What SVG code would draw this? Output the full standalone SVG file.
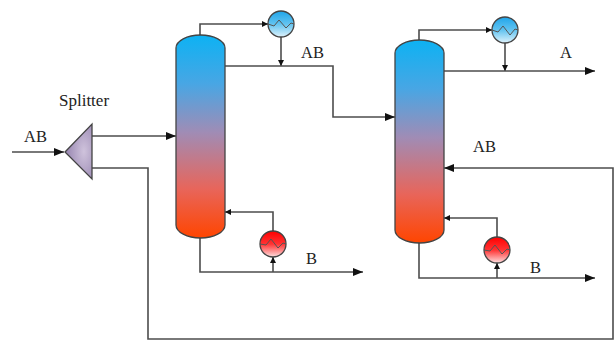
<svg xmlns="http://www.w3.org/2000/svg" width="616" height="342" viewBox="0 0 616 342">
<style>
text{font-family:"Liberation Serif","Times New Roman",serif;font-size:16.5px;fill:#222}
.c{fill:none;stroke:#4d4d4d;stroke-width:1.6}
.v{stroke:#444;stroke-width:1.3}
.z{fill:none;stroke:#555;stroke-width:1}
</style>
<defs>
<linearGradient id="col" x1="0" y1="0" x2="0" y2="1"><stop offset="0" stop-color="#0db2f3"/><stop offset=".24" stop-color="#48a6e4"/><stop offset=".48" stop-color="#a08cb5"/><stop offset=".76" stop-color="#e8655a"/><stop offset="1" stop-color="#ff4500"/></linearGradient>
<linearGradient id="cool" x1="0" y1="0" x2="0" y2="1"><stop offset="0" stop-color="#1fa5ea"/><stop offset=".5" stop-color="#62c3f0"/><stop offset="1" stop-color="#dff3fc"/></linearGradient>
<linearGradient id="heat" x1="0" y1="0" x2="0" y2="1"><stop offset="0" stop-color="#f00"/><stop offset=".5" stop-color="#f33"/><stop offset="1" stop-color="#fde0e0"/></linearGradient>
<radialGradient id="spl" cx=".7" cy=".5" r=".6"><stop offset="0" stop-color="#cfc3dc"/><stop offset="1" stop-color="#9d8cb5"/></radialGradient>
<marker id="a" markerUnits="userSpaceOnUse" markerWidth="11" markerHeight="8" refX="10" refY="4" orient="auto"><path d="M0 0L10 4L0 8Z" fill="#111"/></marker>
<marker id="s" markerUnits="userSpaceOnUse" markerWidth="7" markerHeight="6" refX="6" refY="3" orient="auto"><path d="M0 0L6 3L0 6Z" fill="#111"/></marker>
</defs>
<g id="connectors">
<path class="c" d="M12 152H64" marker-end="url(#a)"/>
<path class="c" d="M92 136H176" marker-end="url(#a)"/>
<path class="c" d="M92 168H148V339H613V168H444" marker-end="url(#a)"/>
<path class="c" d="M200 35V24H268" marker-end="url(#s)"/>
<path class="c" d="M281 37V66" marker-end="url(#s)"/>
<path class="c" d="M225 66H333V117H395" marker-end="url(#a)"/>
<path class="c" d="M273 231V212H225" marker-end="url(#s)"/>
<path class="c" d="M273 272V257" marker-end="url(#s)"/>
<path class="c" d="M200 238V272H363" marker-end="url(#a)"/>
<path class="c" d="M419 40V30H492" marker-end="url(#s)"/>
<path class="c" d="M505 43V71" marker-end="url(#s)"/>
<path class="c" d="M444 71H595" marker-end="url(#a)"/>
<path class="c" d="M497 237V218H444" marker-end="url(#s)"/>
<path class="c" d="M497 278V263" marker-end="url(#s)"/>
<path class="c" d="M419 243V278H595" marker-end="url(#a)"/>
</g>
<g id="splitter"><path d="M65 152L92 124V179Z" fill="url(#spl)" stroke="#444" stroke-width="1.3"/></g>
<g id="column1"><path d="M176 48A24.5 13 0 0 1 225 48V225A24.5 13 0 0 1 176 225Z" fill="url(#col)" stroke="#444" stroke-width="1.3"/></g>
<g id="column2"><path d="M395 53A24.5 13 0 0 1 444 53V230A24.5 13 0 0 1 395 230Z" fill="url(#col)" stroke="#444" stroke-width="1.3"/></g>
<g id="condenser1"><circle class="v" cx="281" cy="24" r="13" fill="url(#cool)"/><path class="z" d="M268 24L274 26L279 20L286 28L291 23L294 24"/></g>
<g id="reboiler1"><circle class="v" cx="273" cy="244" r="13" fill="url(#heat)"/><path class="z" d="M260 244L266 245L271 239L278 248L283 243L286 244"/></g>
<g id="condenser2"><circle class="v" cx="505" cy="30" r="13" fill="url(#cool)"/><path class="z" d="M492 30L498 32L503 26L510 35L515 29L518 30"/></g>
<g id="reboiler2"><circle class="v" cx="497" cy="250" r="13" fill="url(#heat)"/><path class="z" d="M484 250L490 251L495 245L502 254L507 249L510 250"/></g>
<g id="labels">
<text x="59" y="106" style="font-size:17px">Splitter</text>
<text x="24" y="142">AB</text>
<text x="301" y="58">AB</text>
<text x="306" y="264">B</text>
<text x="560" y="58">A</text>
<text x="473" y="152">AB</text>
<text x="530" y="273">B</text>
</g>
</svg>
